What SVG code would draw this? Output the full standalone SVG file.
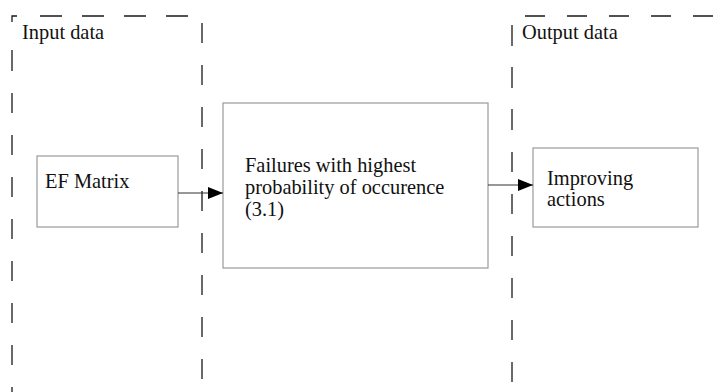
<svg xmlns="http://www.w3.org/2000/svg" width="726" height="392" viewBox="0 0 726 392">
  <defs>
    <style>
      .region { fill: none; stroke: #1a1a1a; stroke-width: 1.3; }
      .box { fill: #ffffff; stroke: #9a9a9a; stroke-width: 1.2; }
      .label { font-family: 'Liberation Serif', 'Times New Roman', serif; font-size: 20.4px; fill: #111111; }
      .conn { fill: none; stroke: #333333; stroke-width: 1.2; }
    </style>
    <marker id="arrow" markerUnits="userSpaceOnUse" markerWidth="16" markerHeight="13" refX="15" refY="6" orient="auto">
      <path d="M0,0 L15,6 L0,12 Z" fill="#000000"/>
    </marker>
  </defs>
  <rect width="726" height="392" fill="#ffffff"/>

  <g id="input-region">
    <path class="region" d="M17,16 H12 V22 M12,50 V71 M12,93 V113 M12,135 V155 M12,177 V197 M12,219 V239 M12,261 V281 M12,303 V323 M12,345 V365 M12,387 V392 M40,16 H62 M82,16 H104 M124,16 H146 M166,16 H188 M202,23 V43 M202,65 V85 M202,107 V127 M202,149 V169 M202,191 V211 M202,233 V253 M202,275 V295 M202,317 V337 M202,359 V379"/>
    <text class="label" x="22" y="39">Input data</text>
  </g>

  <g id="output-region">
    <path class="region" d="M512,25 V46 M512,67 V88 M512,109 V130 M512,152 V172 M512,194 V214 M512,236 V256 M512,278 V298 M512,320 V340 M512,362 V382 M525,16 H545 M567,16 H587 M609,16 H629 M651,16 H671 M693,16 H713"/>
    <text class="label" x="522" y="39">Output data</text>
  </g>

  <g id="ef-matrix">
    <rect class="box" x="37" y="156" width="141" height="71"/>
    <text class="label" x="45" y="188">EF Matrix</text>
  </g>

  <g id="failures">
    <rect class="box" x="223" y="103" width="265" height="165"/>
    <text class="label" x="245" y="172">Failures with highest</text>
    <text class="label" x="245" y="194">probability of occurence</text>
    <text class="label" x="245" y="216">(3.1)</text>
  </g>

  <g id="improving">
    <rect class="box" x="533" y="148" width="165" height="79"/>
    <text class="label" x="547" y="185">Improving</text>
    <text class="label" x="547" y="206">actions</text>
  </g>

  <g id="connectors">
    <line class="conn" x1="178" y1="193" x2="223" y2="193" marker-end="url(#arrow)"/>
    <line class="conn" x1="488" y1="185" x2="533" y2="185" marker-end="url(#arrow)"/>
  </g>
</svg>
